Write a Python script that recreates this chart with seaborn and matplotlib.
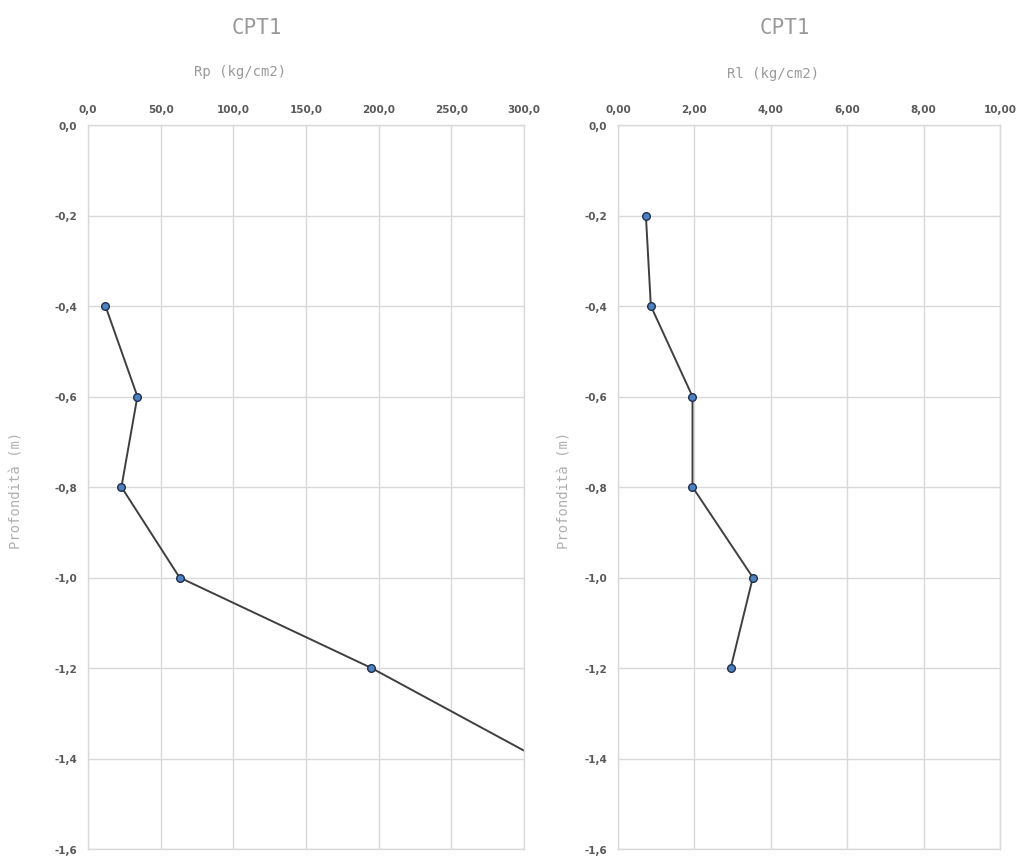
import matplotlib
matplotlib.use("Agg")
import matplotlib.pyplot as plt
import seaborn as sns
import pandas as pd
from matplotlib.ticker import FixedLocator, FixedFormatter

# CPT1 data
depth_rp = [-0.4, -0.6, -0.8, -1.0, -1.2, -1.4]
rp_values = [12, 34, 23, 63, 195, 310]

depth_rl = [-0.2, -0.4, -0.6, -0.8, -1.0, -1.2]
rl_values = [0.73, 0.86, 1.95, 1.95, 3.53, 2.95]

rp_ticks = [0, 50, 100, 150, 200, 250, 300]
rp_labels = ["0,0", "50,0", "100,0", "150,0", "200,0", "250,0", "300,0"]
rl_ticks = [0, 2, 4, 6, 8, 10]
rl_labels = ["0,00", "2,00", "4,00", "6,00", "8,00", "10,00"]
depth_ticks = [0.0, -0.2, -0.4, -0.6, -0.8, -1.0, -1.2, -1.4, -1.6]
depth_labels = ["0,0", "-0,2", "-0,4", "-0,6", "-0,8", "-1,0", "-1,2", "-1,4", "-1,6"]

sns.set_style("white")
plt.rcParams["font.family"] = ["DejaVu Sans"]

fig = plt.figure(figsize=(10.17, 8.62), dpi=100)
W, H = 1017, 862

ax1 = fig.add_axes([88 / W, 1 - 850 / H, 436 / W, 724 / H])
ax2 = fig.add_axes([618 / W, 1 - 850 / H, 382 / W, 724 / H])

df_rp = pd.DataFrame({"Rp": rp_values, "z": depth_rp})
df_rl = pd.DataFrame({"Rl": rl_values, "z": depth_rl})

grid_col = "#d9d9d9"
line_col = "#3f3f3f"
mark_col = "#4f81bd"
tick_col = "#595959"
label_col = "#b0b0b0"
title_col = "#9a9a9a"

for ax, df, xcol, xt, xl, xmax in [
    (ax1, df_rp, "Rp", rp_ticks, rp_labels, 300),
    (ax2, df_rl, "Rl", rl_ticks, rl_labels, 10),
]:
    sns.lineplot(data=df, x=xcol, y="z", sort=False, estimator=None, ax=ax,
                 color=line_col, linewidth=1.4, marker="o", markersize=5.5,
                 markerfacecolor=mark_col, markeredgecolor="#1f2f4f",
                 markeredgewidth=1.0)
    ax.set_xlim(0, xmax)
    ax.set_ylim(-1.6, 0)
    ax.xaxis.tick_top()
    ax.xaxis.set_major_locator(FixedLocator(xt))
    ax.xaxis.set_major_formatter(FixedFormatter(xl))
    ax.yaxis.set_major_locator(FixedLocator(depth_ticks))
    ax.yaxis.set_major_formatter(FixedFormatter(depth_labels))
    ax.tick_params(length=0, labelsize=7.5, labelcolor=tick_col, pad=8)
    for lab in ax.get_xticklabels() + ax.get_yticklabels():
        lab.set_fontweight("bold")
    ax.grid(True, color=grid_col, linewidth=1.0)
    ax.set_axisbelow(True)
    for sp in ax.spines.values():
        sp.set_color(grid_col)
        sp.set_linewidth(1.0)
    ax.set_xlabel("")
    ax.set_ylabel("")

mono = "DejaVu Sans Mono"
fig.text(257 / W, 1 - 28 / H, "CPT1", ha="center", va="center",
         fontsize=15, color=title_col, family=mono)
fig.text(785 / W, 1 - 28 / H, "CPT1", ha="center", va="center",
         fontsize=15, color=title_col, family=mono)
fig.text(240 / W, 1 - 72 / H, "Rp (kg/cm2)", ha="center", va="center",
         fontsize=10, color=title_col, family=mono)
fig.text(773 / W, 1 - 74 / H, "Rl (kg/cm2)", ha="center", va="center",
         fontsize=10, color=title_col, family=mono)
fig.text(17 / W, 1 - 490 / H, "Profondità (m)", ha="center", va="center",
         rotation=90, fontsize=10, color=label_col, family=mono)
fig.text(565 / W, 1 - 490 / H, "Profondità (m)", ha="center", va="center",
         rotation=90, fontsize=10, color=label_col, family=mono)

fig.savefig("out.png", dpi=100)
